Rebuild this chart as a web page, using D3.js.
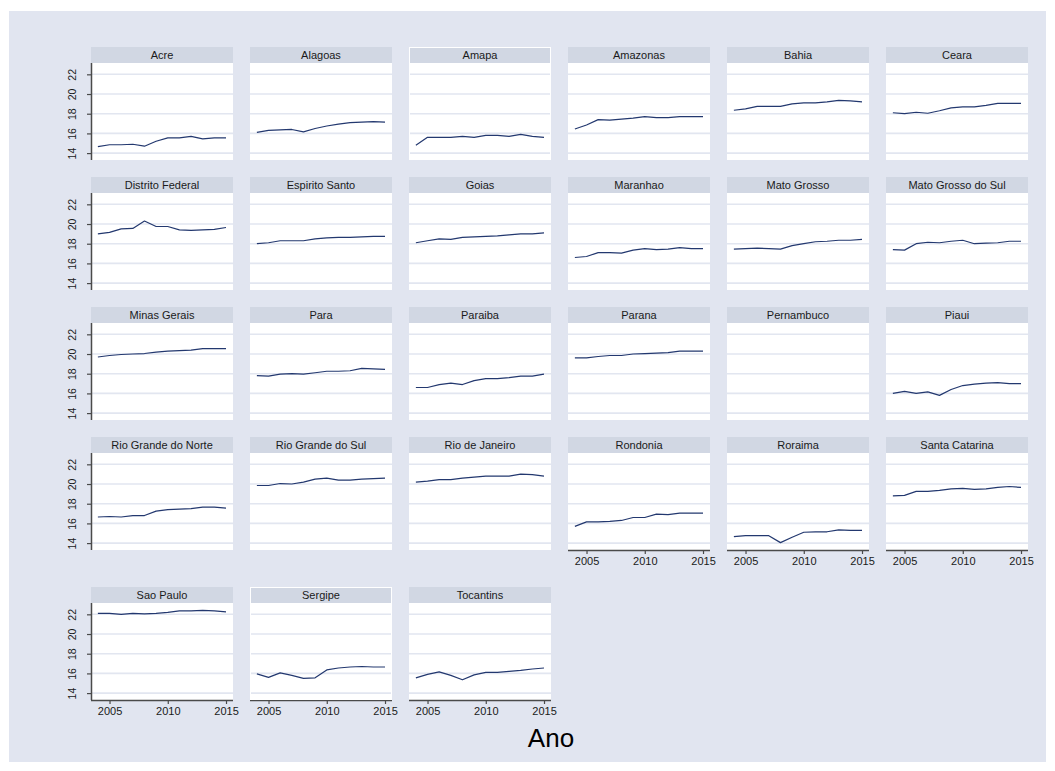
<!DOCTYPE html>
<html>
<head>
<meta charset="utf-8">
<script src="https://cdn.jsdelivr.net/npm/d3@7"></script>
<style>
  html, body { margin: 0; padding: 0; background: #ffffff; }
  svg { display: block; font-family: "Liberation Sans", Arial, Helvetica, sans-serif; }
</style>
</head>
<body>
<svg id="chart" width="1055" height="771"></svg>
<script>
// Years on the horizontal axis
const years = [2004, 2005, 2006, 2007, 2008, 2009, 2010, 2011, 2012, 2013, 2014, 2015];
const xTicks = [2005, 2010, 2015];
const yTicks = [14, 16, 18, 20, 22];

// One series per state (same order as the years above)
const acre            = [14.65, 14.85, 14.85, 14.9, 14.7, 15.2, 15.55, 15.55, 15.7, 15.45, 15.55, 15.55];
const alagoas         = [16.1, 16.3, 16.35, 16.4, 16.15, 16.5, 16.75, 16.95, 17.1, 17.15, 17.2, 17.15];
const amapa           = [14.8, 15.6, 15.6, 15.6, 15.7, 15.6, 15.8, 15.8, 15.7, 15.9, 15.7, 15.6];
const amazonas        = [16.45, 16.85, 17.4, 17.35, 17.45, 17.55, 17.7, 17.6, 17.6, 17.7, 17.7, 17.7];
const bahia           = [18.35, 18.5, 18.75, 18.75, 18.75, 19.0, 19.1, 19.1, 19.2, 19.35, 19.3, 19.2];
const ceara           = [18.1, 18.0, 18.15, 18.05, 18.3, 18.6, 18.7, 18.7, 18.85, 19.05, 19.05, 19.05];
const distritoFederal = [19.0, 19.15, 19.5, 19.55, 20.3, 19.75, 19.75, 19.4, 19.35, 19.4, 19.45, 19.65];
const espiritoSanto   = [18.0, 18.1, 18.3, 18.3, 18.3, 18.5, 18.6, 18.65, 18.65, 18.7, 18.75, 18.75];
const goias           = [18.1, 18.3, 18.5, 18.45, 18.65, 18.7, 18.75, 18.8, 18.9, 19.0, 19.0, 19.1];
const maranhao        = [16.6, 16.7, 17.1, 17.1, 17.05, 17.35, 17.5, 17.4, 17.45, 17.6, 17.5, 17.5];
const matoGrosso      = [17.45, 17.5, 17.55, 17.5, 17.45, 17.8, 18.0, 18.2, 18.25, 18.35, 18.35, 18.45];
const matoGrossoSul   = [17.4, 17.35, 18.0, 18.15, 18.1, 18.25, 18.35, 18.0, 18.05, 18.1, 18.25, 18.25];
const minasGerais     = [19.7, 19.85, 19.95, 20.0, 20.05, 20.2, 20.3, 20.35, 20.4, 20.55, 20.55, 20.55];
const para            = [17.8, 17.75, 17.95, 18.0, 17.95, 18.1, 18.25, 18.25, 18.3, 18.55, 18.5, 18.45];
const paraiba         = [16.6, 16.6, 16.9, 17.05, 16.9, 17.3, 17.5, 17.5, 17.6, 17.75, 17.75, 17.95];
const parana          = [19.6, 19.6, 19.75, 19.85, 19.85, 20.0, 20.05, 20.1, 20.15, 20.3, 20.3, 20.3];
const pernambuco      = [];
const piaui           = [16.0, 16.2, 16.0, 16.15, 15.8, 16.4, 16.8, 16.95, 17.05, 17.1, 17.0, 17.0];
const rioGrandeNorte  = [16.65, 16.7, 16.65, 16.8, 16.8, 17.25, 17.4, 17.45, 17.5, 17.65, 17.65, 17.55];
const rioGrandeSul    = [19.85, 19.85, 20.05, 20.0, 20.2, 20.5, 20.6, 20.4, 20.4, 20.5, 20.55, 20.6];
const rioJaneiro      = [20.2, 20.3, 20.45, 20.45, 20.6, 20.7, 20.8, 20.8, 20.8, 21.0, 20.95, 20.8];
const rondonia        = [15.7, 16.15, 16.15, 16.2, 16.3, 16.6, 16.6, 16.95, 16.9, 17.05, 17.05, 17.05];
const roraima         = [14.65, 14.75, 14.75, 14.75, 14.05, 14.6, 15.1, 15.15, 15.15, 15.35, 15.3, 15.3];
const santaCatarina   = [18.8, 18.85, 19.25, 19.25, 19.35, 19.5, 19.55, 19.45, 19.5, 19.65, 19.75, 19.65];
const saoPaulo        = [22.1, 22.1, 22.0, 22.1, 22.05, 22.1, 22.2, 22.35, 22.35, 22.4, 22.35, 22.25];
const sergipe         = [15.95, 15.6, 16.05, 15.8, 15.5, 15.55, 16.35, 16.55, 16.65, 16.7, 16.65, 16.65];
const tocantins       = [15.55, 15.9, 16.15, 15.8, 15.35, 15.85, 16.1, 16.1, 16.2, 16.3, 16.45, 16.55];

const states = [
  "Acre", "Alagoas", "Amapa", "Amazonas", "Bahia", "Ceara",
  "Distrito Federal", "Espirito Santo", "Goias", "Maranhao", "Mato Grosso", "Mato Grosso do Sul",
  "Minas Gerais", "Para", "Paraiba", "Parana", "Pernambuco", "Piaui",
  "Rio Grande do Norte", "Rio Grande do Sul", "Rio de Janeiro", "Rondonia", "Roraima", "Santa Catarina",
  "Sao Paulo", "Sergipe", "Tocantins"
];
const series = [
  acre, alagoas, amapa, amazonas, bahia, ceara,
  distritoFederal, espiritoSanto, goias, maranhao, matoGrosso, matoGrossoSul,
  minasGerais, para, paraiba, parana, pernambuco, piaui,
  rioGrandeNorte, rioGrandeSul, rioJaneiro, rondonia, roraima, santaCatarina,
  saoPaulo, sergipe, tocantins
];
// Panels whose frame is drawn with a white outline
const outlined = ["Amapa", "Sergipe"];

// ---- layout ----
const W = 1055, H = 771;
const nCols = 6;
const panelW = 142, stripH = 16, plotH = 97;
const colX0 = 91, colStep = 159;
const rowY0 = 47, rowStep = 130, lastRowExtra = 20;
const nRows = Math.ceil(states.length / nCols);

const colors = {
  outer: "#ffffff",
  region: "#e1e5f0",
  strip: "#d1d7e3",
  plot: "#ffffff",
  grid: "#e2e6f0",
  axis: "#4a4a4a",
  line: "#23386f",
  text: "#1a1a1a"
};

const svg = d3.select("#chart");
svg.append("rect").attr("width", W).attr("height", H).attr("fill", colors.outer);
svg.append("rect").attr("x", 9).attr("y", 11).attr("width", 1037).attr("height", 751)
   .attr("fill", colors.region);

const x = d3.scaleLinear().domain([2003.41, 2015.6]).range([0, panelW]);
const y = d3.scaleLinear().domain([13.3, 23.15]).range([plotH, 0]);

const line = d3.line().x(d => x(d[0])).y(d => y(d[1]));

states.forEach((name, i) => {
  const r = Math.floor(i / nCols), c = i % nCols;
  const px = colX0 + c * colStep;
  const py = rowY0 + r * rowStep + (r === nRows - 1 ? lastRowExtra : 0);
  const g = svg.append("g").attr("transform", `translate(${px},${py})`);

  // strip with the state name
  g.append("rect").attr("width", panelW).attr("height", stripH).attr("fill", colors.strip);
  g.append("text")
    .attr("x", panelW / 2).attr("y", stripH / 2 + 4)
    .attr("text-anchor", "middle")
    .attr("font-size", 11)
    .attr("fill", colors.text)
    .text(name);

  // plot area
  const p = g.append("g").attr("transform", `translate(0,${stripH})`);
  p.append("rect").attr("width", panelW).attr("height", plotH).attr("fill", colors.plot);

  // horizontal gridlines
  p.selectAll("line.grid").data(yTicks).join("line")
    .attr("class", "grid")
    .attr("x1", 0).attr("x2", panelW)
    .attr("y1", d => y(d)).attr("y2", d => y(d))
    .attr("stroke", colors.grid).attr("stroke-width", 1.6);

  if (outlined.includes(name)) {
    g.append("rect").attr("x", 0.5).attr("y", 0.5)
      .attr("width", panelW - 1).attr("height", stripH + plotH - 1)
      .attr("fill", "none").attr("stroke", "#ffffff").attr("stroke-width", 1);
  }

  // the series line
  const pts = series[i].map((v, k) => [years[k], v]);
  if (pts.length) {
    p.append("path").datum(pts)
      .attr("d", line)
      .attr("fill", "none")
      .attr("stroke", colors.line)
      .attr("stroke-width", 1.2)
      .attr("stroke-linejoin", "round");
  }

  // left axis on the first column
  if (c === 0) {
    const ya = p.append("g").call(d3.axisLeft(y).tickValues(yTicks).tickSize(4).tickPadding(0));
    ya.select(".domain").attr("stroke", colors.axis).attr("stroke-width", 1.5)
      .attr("d", `M0.5,0V${plotH}`);
    ya.selectAll(".tick line").attr("stroke", colors.axis).attr("stroke-width", 1.2);
    ya.selectAll(".tick text")
      .attr("font-size", 10.5)
      .attr("font-family", "Liberation Sans, Arial, sans-serif")
      .attr("fill", colors.text)
      .attr("text-anchor", "middle")
      .attr("dy", null)
      .attr("x", null)
      .attr("transform", "translate(-19,0) rotate(-90)")
      .attr("y", 4);
  }

  // bottom axis where no panel sits below
  if (i + nCols >= states.length) {
    const xa = p.append("g").attr("transform", `translate(0,${plotH})`)
      .call(d3.axisBottom(x).tickValues(xTicks).tickFormat(d3.format("d")).tickSize(4).tickPadding(3));
    xa.select(".domain").attr("stroke", colors.axis).attr("stroke-width", 1.5)
      .attr("d", `M0,0.5H${panelW}`);
    xa.selectAll(".tick line").attr("stroke", colors.axis).attr("stroke-width", 1.2);
    xa.selectAll(".tick text")
      .attr("font-size", 11)
      .attr("font-family", "Liberation Sans, Arial, sans-serif")
      .attr("fill", colors.text);
  }
});

// x-axis title
svg.append("text")
  .attr("x", 551).attr("y", 747)
  .attr("text-anchor", "middle")
  .attr("font-size", 26)
  .attr("fill", "#000000")
  .text("Ano");
</script>
</body>
</html>
